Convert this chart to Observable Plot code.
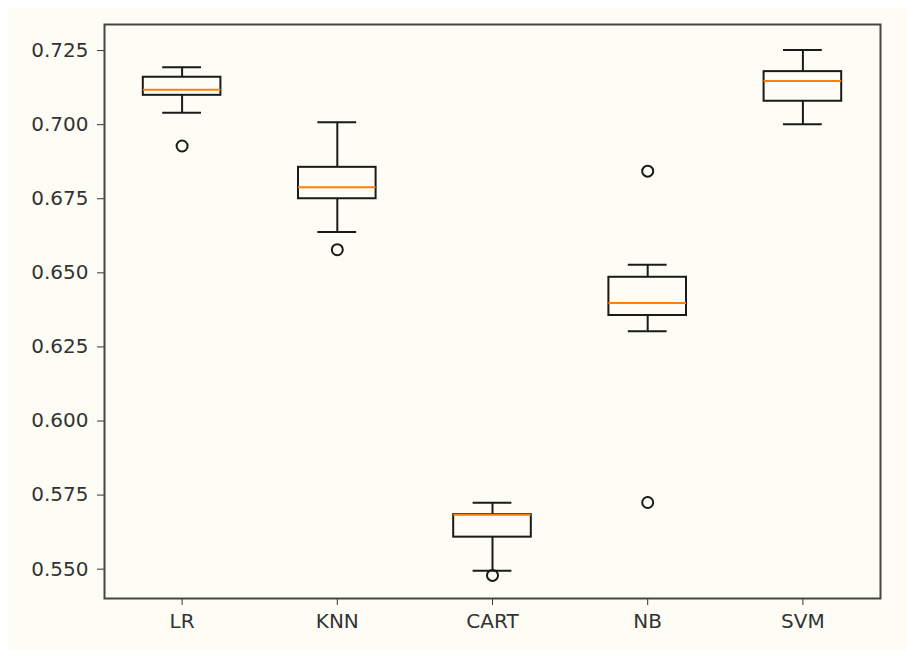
<!DOCTYPE html>
<html>
<head>
<meta charset="utf-8">
<script src="https://cdn.jsdelivr.net/npm/d3@7"></script>
<script src="https://cdn.jsdelivr.net/npm/@observablehq/plot@0.6"></script>
<style>
  html, body { margin: 0; padding: 0; background: #ffffff; width: 907px; height: 650px; overflow: hidden; }
  #chart { position: absolute; left: 8px; top: 8px; width: 899px; height: 642px; background: #fdfdf6; overflow: hidden; }
  #chart svg { display: block; background: #fdfdf6; }
</style>
</head>
<body>
<div id="chart"></div>
<script>
const models = ["LR", "KNN", "CART", "NB", "SVM"];
const whiskerLow  = [0.7040, 0.6638, 0.5495, 0.6303, 0.7001];
const q1          = [0.7099, 0.6750, 0.5608, 0.6356, 0.7079];
const median      = [0.7118, 0.6789, 0.5684, 0.6398, 0.7147];
const q3          = [0.7160, 0.6856, 0.5684, 0.6485, 0.7179];
const whiskerHigh = [0.7194, 0.7008, 0.5724, 0.6527, 0.7252];
const outlierModel = ["LR", "KNN", "CART", "NB", "NB"];
const outlierValue = [0.6928, 0.6578, 0.5479, 0.6843, 0.5725];
const yTicks = [0.550, 0.575, 0.600, 0.625, 0.650, 0.675, 0.700, 0.725];

const boxes = models.map((m, i) => ({
  model: m, pos: i + 1,
  lo: whiskerLow[i], q1: q1[i], med: median[i], q3: q3[i], hi: whiskerHigh[i]
}));
const outliers = outlierModel.map((m, i) => ({ pos: models.indexOf(m) + 1, value: outlierValue[i] }));

const ink = "#1a1a1a";
const chart = Plot.plot({
  width: 899,
  height: 642,
  marginLeft: 96,
  marginTop: 16,
  marginRight: 27,
  marginBottom: 52,
  style: { fontFamily: "DejaVu Sans", fontSize: "20px", color: "#333", background: "#fdfdf6", overflow: "visible" },
  x: { domain: [0.5, 5.5], axis: null },
  y: { domain: [0.5401, 0.7338], axis: null },
  marks: [
    Plot.axisY({ ticks: yTicks, tickFormat: d3.format(".3f"), tickSize: 7, tickPadding: 9, stroke: "#333", fontSize: 20, label: null }),
    Plot.axisX({ ticks: models.map((m, i) => i + 1), tickFormat: d => models[d - 1], tickSize: 7, tickPadding: 8, stroke: "#333", fontSize: 20, label: null }),
    Plot.ruleX(boxes, { x: "pos", y1: "q3", y2: "hi", stroke: ink, strokeWidth: 2 }),
    Plot.ruleX(boxes, { x: "pos", y1: "lo", y2: "q1", stroke: ink, strokeWidth: 2 }),
    Plot.ruleY(boxes, { y: "hi", x1: d => d.pos - 0.125, x2: d => d.pos + 0.125, stroke: ink, strokeWidth: 2 }),
    Plot.ruleY(boxes, { y: "lo", x1: d => d.pos - 0.125, x2: d => d.pos + 0.125, stroke: ink, strokeWidth: 2 }),
    Plot.rect(boxes, { x1: d => d.pos - 0.25, x2: d => d.pos + 0.25, y1: "q1", y2: "q3", fill: "none", stroke: ink, strokeWidth: 2 }),
    Plot.ruleY(boxes, { y: "med", x1: d => d.pos - 0.25, x2: d => d.pos + 0.25, stroke: "#ff7f0e", strokeWidth: 2 }),
    Plot.dot(outliers, { x: "pos", y: "value", r: 5.5, fill: "none", stroke: ink, strokeWidth: 2 }),
    Plot.frame({ stroke: "#444", strokeWidth: 2 })
  ]
});
document.getElementById("chart").appendChild(chart);
</script>
</body>
</html>
